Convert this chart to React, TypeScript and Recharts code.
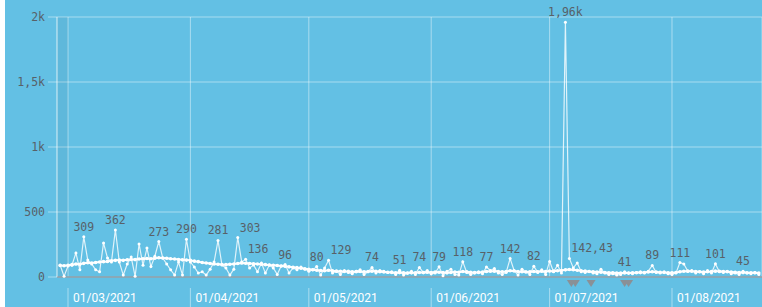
import {
  ComposedChart, Line, Scatter, XAxis, YAxis, CartesianGrid,
  ReferenceArea, LabelList,
} from "recharts";

// daily values, 27/02/2021 .. 23/08/2021
const daily = [
  92, 5, 85, 90, 185, 55, 309, 130, 100, 55,
  40, 262, 146, 115, 362, 115, 15, 100, 153, 5,
  254, 90, 223, 80, 160, 273, 146, 100, 55, 15,
  115, 15, 290, 115, 77, 30, 40, 15, 60, 115,
  281, 92, 70, 15, 60, 303, 115, 136, 70, 92,
  40, 108, 30, 92, 70, 20, 85, 96, 30, 70,
  55, 77, 60, 45, 55, 80, 15, 70, 129, 30,
  45, 20, 50, 35, 25, 45, 55, 20, 40, 74,
  30, 50, 45, 35, 40, 20, 51, 15, 30, 45,
  20, 74, 35, 50, 25, 30, 79, 10, 45, 60,
  20, 15, 118, 35, 20, 30, 40, 25, 77, 50,
  65, 30, 20, 35, 142, 50, 15, 60, 40, 20,
  82, 35, 55, 20, 120, 40, 90, 30, 1960, 142.43,
  70, 108, 40, 35, 45, 30, 25, 60, 30, 20,
  25, 15, 20, 41, 30, 25, 35, 40, 30, 45,
  89, 35, 30, 40, 25, 20, 30, 111, 100, 45,
  50, 30, 40, 25, 50, 30, 101, 40, 35, 45,
  25, 30, 20, 45, 30, 25, 35, 20,
];

// smoothed trend
const trend = [
  88, 86, 90, 95, 100, 98, 105, 110, 108, 112,
  115, 118, 120, 125, 128, 130, 128, 132, 135, 134,
  138, 140, 142, 140, 145, 148, 146, 144, 140, 138,
  135, 132, 130, 128, 122, 118, 112, 108, 104, 100,
  98, 96, 95, 98, 100, 104, 108, 106, 104, 102,
  100, 98, 95, 92, 90, 88, 85, 82, 78, 75,
  72, 68, 64, 60, 56, 52, 50, 48, 52, 48,
  45, 44, 42, 43, 40, 41, 42, 40, 42, 45,
  44, 40, 38, 36, 35, 33, 34, 32, 30, 32,
  33, 35, 34, 36, 35, 38, 36, 34, 32, 35,
  38, 36, 42, 40, 36, 34, 35, 38, 42, 44,
  45, 42, 40, 42, 48, 46, 42, 40, 38, 40,
  42, 40, 44, 42, 46, 45, 48, 50, 55, 58,
  56, 52, 48, 45, 42, 40, 38, 36, 35, 33,
  32, 30, 30, 31, 30, 32, 33, 34, 35, 38,
  40, 38, 36, 35, 33, 32, 35, 40, 44, 45,
  44, 42, 40, 38, 40, 42, 45, 44, 42, 40,
  38, 36, 35, 34, 33, 32, 32, 30,
];

const labelledDays = [
  6, 14, 25, 32, 40, 45, 47, 57, 65, 68, 79, 86, 91, 96,
  102, 108, 114, 120, 128, 129, 143, 150, 157, 166, 173,
];

const monthTicks = [2, 33, 63, 94, 124, 155];
const monthLabels = [
  "01/03/2021", "01/04/2021", "01/05/2021",
  "01/06/2021", "01/07/2021", "01/08/2021",
];
const yTicks = [0, 500, 1000, 1500, 2000];
const eventDays = [129.5, 130.5, 134.5, 143, 144];

// labels pushed to the right of their point so they don't collide
const rightLabels = new Set([45, 47, 68, 129]);

const GRID = "rgba(255,255,255,0.45)";
const LABEL_GREY = "#586168";

const fmt = (v: number) =>
  v >= 1000 ? `${String(v / 1000).replace(".", ",")}k` : String(v).replace(".", ",");

const rows = daily.map((d, i) => ({
  t: i,
  daily: d,
  trend: trend[i],
  lab: labelledDays.includes(i) ? fmt(d) : null,
  right: rightLabels.has(i),
}));
const events = eventDays.map((t) => ({ t, v: 0 }));

// eslint-disable-next-line @typescript-eslint/no-explicit-any
const MonthTick = ({ x, y, payload }: any) => {
  const label = monthLabels[monthTicks.indexOf(payload.value)];
  return (
    <g>
      <line x1={x} x2={x} y1={y + 11} y2={y + 30} stroke={GRID} />
      <text x={x + 5} y={y + 25} fill="#fff" fontSize={12} fontFamily="Roboto">
        {label}
      </text>
    </g>
  );
};

// eslint-disable-next-line @typescript-eslint/no-explicit-any
const PeakLabel = ({ x, y, value, index }: any) => {
  if (value == null) return null;
  const right = rows[index]?.right;
  return (
    <text x={right ? x + 2 : x} y={y - 6} textAnchor={right ? "start" : "middle"}
      fill={LABEL_GREY} fontSize={11.5} fontFamily="DejaVu Sans Mono">
      {value}
    </text>
  );
};

// eslint-disable-next-line @typescript-eslint/no-explicit-any
const Marker = ({ cx, cy }: any) => (
  <path d={`M${cx - 4.5},${cy + 3} L${cx + 4.5},${cy + 3} L${cx},${cy + 10} Z`} fill="#8a9096" />
);

export default function App() {
  return (
    <div style={{ position: "absolute", left: 5, top: 0, width: 757, height: 307, background: "#63c0e4" }}>
      <ComposedChart width={757} height={307} data={rows} margin={{ top: 17, right: 0, bottom: 0, left: 0 }}>
        <ReferenceArea x1={-0.79} x2={2} fill="#000" fillOpacity={0.04} stroke="none" ifOverflow="hidden" />
        <CartesianGrid stroke={GRID} />
        <XAxis
          dataKey="t"
          type="number"
          domain={[-0.79, 177.8]}
          allowDataOverflow
          ticks={monthTicks}
          tick={<MonthTick />}
          tickLine={false}
          tickSize={0}
          tickMargin={0}
          height={30}
          axisLine={{ stroke: "#8d9ba4", strokeWidth: 1.5 }}
        />
        <YAxis
          type="number"
          domain={[0, 2000]}
          ticks={yTicks}
          tickFormatter={fmt}
          width={52}
          tickSize={9}
          tickMargin={3}
          tickLine={{ stroke: GRID }}
          axisLine={{ stroke: GRID }}
          tick={{ fill: LABEL_GREY, fontSize: 11.5, fontFamily: "DejaVu Sans Mono" }}
        />
        <Line
          dataKey="daily"
          stroke="#fff"
          strokeOpacity={0.8}
          strokeWidth={1.2}
          dot={{ r: 1.5, fill: "#fff", stroke: "none" }}
          isAnimationActive={false}
        >
          <LabelList dataKey="lab" content={<PeakLabel />} />
        </Line>
        <Line
          dataKey="trend"
          stroke="#fff"
          strokeWidth={2}
          dot={{ r: 1.8, fill: "#fff", stroke: "none" }}
          isAnimationActive={false}
        />
        <Scatter data={events} dataKey="v" shape={<Marker />} isAnimationActive={false} />
      </ComposedChart>
    </div>
  );
}
